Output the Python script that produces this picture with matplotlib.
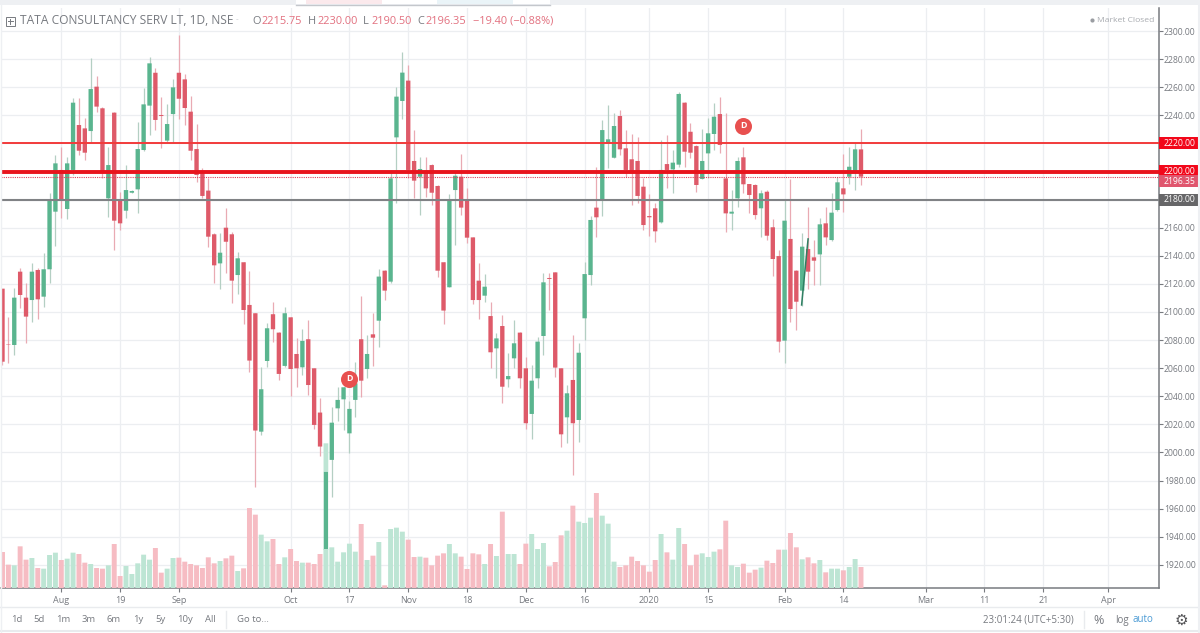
import matplotlib
matplotlib.use("Agg")
import matplotlib.pyplot as plt
from matplotlib.patches import Rectangle
import numpy as np

plt.rcParams['font.family'] = ['Open Sans', 'DejaVu Sans']

opens = [2116.6, 2077.0, 2076.5, 2128.7, 2110.2, 2108.5, 2129.9, 2110.9, 2130.4, 2171.4,
         2201.1, 2173.3, 2201.1, 2233.1, 2230.7, 2228.8, 2260.4, 2245.0, 2180.9, 2241.9,
         2180.4, 2172.1, 2184.9, 2187.3, 2215.3, 2246.9, 2270.3, 2240.2, 2222.0, 2240.9,
         2270.3, 2265.6, 2242.6, 2216.0, 2198.7, 2186.4, 2155.3, 2134.6, 2160.0, 2155.3,
         2126.3, 2135.4, 2105.0, 2099.1, 2014.8, 2065.1, 2098.4, 2085.3, 2061.6, 2096.2,
         2070.1, 2060.6, 2080.6, 2059.9, 2028.4, 1930.6, 1994.7, 2031.4, 2037.8, 2013.6,
         2037.4, 2080.6, 2059.4, 2084.1, 2093.8, 2129.4, 2121.6, 2224.3, 2250.2, 2264.7,
         2207.5, 2196.3, 2200.6, 2204.6, 2189.7, 2135.4, 2117.6, 2186.8, 2196.3, 2179.0,
         2153.1, 2122.3, 2111.6, 2097.1, 2074.1, 2090.0, 2052.1, 2067.0, 2085.3, 2059.9,
         2027.4, 2052.8, 2082.9, 2124.2, 2128.2, 2059.9, 2025.0, 2051.6, 2023.1, 2095.5,
         2126.3, 2174.3, 2180.2, 2220.0, 2209.8, 2239.5, 2216.5, 2208.7, 2207.5, 2189.2,
         2168.3, 2173.8, 2163.8, 2205.3, 2201.5, 2204.9, 2249.0, 2228.3, 2218.1, 2194.7,
         2212.9, 2226.7, 2240.9, 2195.1, 2170.0, 2180.9, 2210.1, 2191.1, 2190.4, 2173.8,
         2185.6, 2160.3, 2139.8, 2079.6, 2152.0, 2129.4, 2115.2, 2144.8, 2138.9, 2141.0,
         2163.1, 2151.2, 2172.6, 2188.0, 2196.3, 2199.2, 2215.75]
closes = [2064.6, 2076.7, 2110.2, 2112.1, 2096.7, 2128.7, 2109.0, 2130.4, 2180.4, 2205.8,
          2180.4, 2205.8, 2249.0, 2214.8, 2213.4, 2258.7, 2246.2, 2199.9, 2204.6, 2165.0,
          2163.1, 2186.8, 2186.1, 2216.0, 2247.8, 2277.0, 2236.7, 2239.5, 2233.8, 2259.9,
          2251.8, 2245.2, 2214.8, 2197.5, 2182.6, 2153.6, 2133.2, 2142.2, 2150.0, 2122.3,
          2138.2, 2101.4, 2065.4, 2015.6, 2045.0, 2088.4, 2087.7, 2055.9, 2099.1, 2059.4,
          2059.9, 2079.4, 2048.0, 2019.6, 2004.2, 1986.4, 2021.2, 2037.4, 2046.4, 2031.0,
          2049.2, 2051.1, 2070.1, 2081.7, 2125.2, 2115.2, 2195.1, 2253.3, 2270.4, 2201.1,
          2193.5, 2201.8, 2188.0, 2184.9, 2129.4, 2101.0, 2179.0, 2197.0, 2174.3, 2152.9,
          2108.5, 2108.5, 2118.0, 2071.3, 2081.2, 2046.8, 2054.4, 2077.7, 2052.8, 2020.8,
          2051.1, 2078.9, 2121.1, 2123.5, 2060.4, 2012.9, 2042.1, 2020.8, 2071.0, 2127.0,
          2165.5, 2167.4, 2229.5, 2222.9, 2232.4, 2215.8, 2201.1, 2198.7, 2182.6, 2161.9,
          2167.4, 2157.4, 2201.1, 2201.1, 2206.3, 2255.2, 2214.1, 2213.4, 2190.4, 2207.5,
          2227.2, 2239.0, 2218.9, 2170.2, 2171.4, 2207.5, 2190.9, 2183.3, 2169.0, 2184.5,
          2154.3, 2137.7, 2078.9, 2165.0, 2102.1, 2107.3, 2146.5, 2128.7, 2136.5, 2162.4,
          2153.1, 2170.7, 2192.3, 2183.7, 2203.4, 2215.8, 2196.35]
highs = [2116.6, 2096.7, 2116.8, 2131.1, 2120.4, 2134.6, 2131.1, 2142.2, 2184.9, 2211.7,
         2217.7, 2210.6, 2252.1, 2252.1, 2237.8, 2280.5, 2268.0, 2245.7, 2217.7, 2242.6,
         2185.6, 2204.6, 2186.8, 2235.5, 2259.2, 2281.7, 2273.4, 2253.3, 2248.0, 2265.6,
         2297.2, 2269.4, 2253.7, 2233.8, 2202.2, 2195.1, 2156.0, 2156.0, 2173.8, 2157.2,
         2142.9, 2135.8, 2129.4, 2099.5, 2061.1, 2091.9, 2107.4, 2086.0, 2103.8, 2096.7,
         2081.3, 2087.7, 2094.3, 2059.9, 2038.6, 1986.4, 2032.6, 2046.9, 2046.9, 2036.9,
         2064.6, 2111.4, 2083.6, 2099.5, 2130.4, 2129.9, 2201.1, 2260.4, 2285.3, 2275.8,
         2229.5, 2210.6, 2210.6, 2205.3, 2190.4, 2135.8, 2184.0, 2199.9, 2212.2, 2188.0,
         2153.6, 2134.6, 2127.0, 2107.3, 2084.8, 2097.9, 2071.0, 2094.3, 2086.0, 2068.2,
         2062.3, 2082.0, 2127.5, 2128.0, 2128.7, 2060.4, 2048.0, 2083.6, 2077.7, 2135.8,
         2168.3, 2203.4, 2236.6, 2247.3, 2241.9, 2243.8, 2229.5, 2226.7, 2224.8, 2195.1,
         2184.0, 2177.3, 2222.4, 2226.0, 2215.3, 2256.8, 2249.7, 2234.3, 2218.9, 2230.0,
         2237.8, 2249.0, 2253.3, 2241.9, 2186.8, 2210.6, 2217.7, 2191.1, 2191.1, 2186.8,
         2186.8, 2165.9, 2144.1, 2179.7, 2194.4, 2129.9, 2156.5, 2174.5, 2151.2, 2166.7,
         2175.0, 2184.9, 2196.3, 2212.2, 2217.2, 2220.5, 2230.0]
lows = [2062.3, 2063.5, 2069.4, 2102.6, 2077.7, 2093.1, 2094.8, 2103.8, 2120.4, 2147.0,
        2166.7, 2166.0, 2197.5, 2211.7, 2208.2, 2220.1, 2242.6, 2195.1, 2167.9, 2144.1,
        2158.3, 2166.7, 2184.5, 2170.2, 2214.8, 2226.0, 2229.5, 2216.5, 2221.2, 2220.1,
        2237.1, 2233.1, 2208.2, 2192.8, 2180.9, 2146.5, 2120.4, 2116.1, 2127.5, 2106.2,
        2112.8, 2091.5, 2057.5, 1975.2, 2012.5, 2061.1, 2078.9, 2051.6, 2061.1, 2040.2,
        2046.9, 2055.2, 2040.9, 2016.5, 1997.5, 1930.6, 1968.1, 2022.7, 2016.0, 1999.9,
        2025.0, 2039.7, 2052.8, 2061.6, 2075.3, 2108.5, 2120.4, 2177.3, 2237.1, 2195.1,
        2180.9, 2169.0, 2182.1, 2176.2, 2124.7, 2091.5, 2117.6, 2147.7, 2169.0, 2148.9,
        2105.7, 2094.8, 2107.3, 2059.9, 2052.8, 2035.0, 2046.8, 2059.9, 2045.7, 2016.5,
        2009.4, 2045.7, 2069.4, 2101.4, 2054.0, 2003.7, 2006.5, 1984.0, 2007.7, 2080.1,
        2119.2, 2153.6, 2168.3, 2202.2, 2209.4, 2211.7, 2196.3, 2176.1, 2177.3, 2158.4,
        2154.1, 2150.1, 2163.6, 2188.0, 2184.5, 2203.0, 2203.4, 2209.4, 2185.6, 2194.4,
        2195.1, 2215.3, 2213.4, 2157.2, 2158.4, 2174.5, 2184.5, 2170.2, 2165.9, 2153.6,
        2151.2, 2125.6, 2071.8, 2063.9, 2093.1, 2087.2, 2104.3, 2116.4, 2119.2, 2119.2,
        2147.7, 2150.8, 2172.1, 2171.4, 2190.9, 2186.8, 2190.5]
volumes = [108, 70, 68, 125, 85, 90, 60, 58, 99, 106, 84, 88, 106, 102, 76, 72, 60, 58, 68, 132,
           36, 66, 42, 74, 100, 85, 120, 46, 58, 90, 91, 79, 72, 68, 60, 92, 74, 81, 89, 97,
           51, 59, 240, 220, 160, 140, 147, 72, 92, 117, 81, 76, 76, 72, 102, 117, 122, 79, 107, 133,
           109, 192, 84, 97, 138, 8, 177, 181, 169, 145, 93, 94, 91, 68, 97, 104, 132, 104, 94, 57,
           104, 101, 72, 132, 96, 229, 102, 102, 72, 133, 162, 117, 135, 65, 78, 158, 172, 247, 199, 195,
           211, 285, 217, 193, 79, 63, 68, 94, 81, 68, 49, 84, 162, 107, 85, 180, 132, 68, 100, 104,
           93, 109, 116, 202, 68, 63, 73, 46, 55, 61, 82, 75, 115, 115, 165, 122, 86, 92, 74, 84,
           47, 58, 58, 53, 63, 87, 63]

price_ticks = list(range(1920, 2320, 20))
date_ticks = [10, 20, 30, 49, 59, 69, 79, 89, 99, 110, 120, 133, 143, 157, 167, 177, 188]
date_labels = ["Aug", "19", "Sep", "Oct", "17", "Nov", "18", "Dec", "16", "2020", "15", "Feb", "14",
               "Mar", "11", "21", "Apr"]
level_prices = [2220, 2200, 2180]
last_price = 2196.35
dividends_x = [59, 126]
dividends_y = [2052.3, 2232.4]
# the pale block sitting on top of the big green candle
ghost_x, ghost_top, ghost_bottom = 55, 2006.5, 1986.4
# hand drawn line over the Feb candles
trend_x = [135.9, 137.0]
trend_y = [2105.0, 2152.0]

RED = "#de5a69"
GREEN = "#5ab58f"
RED_WICK = "#e9aab3"
GREEN_WICK = "#b4cfc3"
RED_VOL = "#f6bcc3"
GREEN_VOL = "#bde5d4"
GRID = "#eceef1"
AXIS = "#787b80"
TEXT = "#777a80"

W, H = 1200, 633
fig = plt.figure(figsize=(W / 100, H / 100), dpi=100)


def px_axes(left, top, right, bottom):
    return [left / W, 1 - bottom / H, (right - left) / W, (bottom - top) / H]


def label(x, y, s, color=TEXT, size=7.0, ha="left", **kw):
    fig.text(x / W, 1 - y / H, s, color=color, fontsize=size, ha=ha, va="center", **kw)


ax = fig.add_axes(px_axes(1, 8, 1159, 588), zorder=1)
ax.set_xlim(-0.255, 196.68)
ax.set_ylim(1903.5, 2316.4)

x = np.arange(len(opens))
o, c, hi, lo = map(np.array, (opens, closes, highs, lows))
up = c >= o

ax.vlines(x[up], lo[up], hi[up], color=GREEN_WICK, lw=0.9, zorder=3)
ax.vlines(x[~up], lo[~up], hi[~up], color=RED_WICK, lw=0.9, zorder=3)
ax.bar(x[up], (c - o)[up], bottom=o[up], width=0.74, color=GREEN, lw=0, zorder=4, snap=False)
ax.bar(x[~up], (o - c)[~up], bottom=c[~up], width=0.74, color=RED, lw=0, zorder=4, snap=False)
ax.bar(ghost_x, ghost_top - ghost_bottom, bottom=ghost_bottom, width=0.8, color=GREEN_VOL, lw=0, zorder=4, snap=False)
ax.plot(trend_x, trend_y, color="#2f8063", lw=1.1, zorder=5)

ax.axhline(level_prices[0], color="#f23b3b", lw=1.4, zorder=6)
ax.axhline(level_prices[1], color="#e8141c", lw=2.8, zorder=6)
ax.axhline(last_price, color="#e0405a", lw=0.8, ls=(0, (1, 1)), zorder=6)
ax.axhline(level_prices[2], color="#808285", lw=1.5, zorder=6)

ax.scatter(dividends_x, dividends_y, s=150, color="#e8504f", lw=0, zorder=7)
for dx, dy in zip(dividends_x, dividends_y):
    ax.text(dx, dy, "D", color="white", fontsize=6.4, fontweight="bold", ha="center", va="center", zorder=8)

ax.set_yticks(price_ticks)
ax.set_yticklabels(["" if p in level_prices else "%.2f" % p for p in price_ticks])
ax.set_xticks(date_ticks)
ax.set_xticklabels(date_labels)
ax.yaxis.tick_right()
ax.tick_params(axis="y", length=3, width=0.8, color=AXIS, labelcolor=TEXT, labelsize=6.2, pad=0.5)
ax.tick_params(axis="x", length=3, width=0.8, color=AXIS, labelcolor=TEXT, labelsize=6.5, pad=3)
ax.grid(True, color=GRID, lw=0.9, zorder=0)
ax.set_axisbelow(True)
for side in ("left", "top"):
    ax.spines[side].set_visible(False)
for side in ("right", "bottom"):
    ax.spines[side].set_color(AXIS)
    ax.spines[side].set_linewidth(1.1)

# price badges on the scale
trans = ax.get_yaxis_transform()
badge_w = 39 / 1158
for price, txt, col in [(level_prices[0], "2220.00", "#f2071a"),
                        (level_prices[2], "2180.00", "#666668"),
                        (level_prices[1], "2200.00", "#f2071a"),
                        (last_price, "2196.35", "#e0566e")]:
    yc = price - 3.4 if price == last_price else price
    ax.add_patch(Rectangle((1.0, yc - 4.3), badge_w, 8.6, transform=trans, color=col, lw=0,
                           clip_on=False, zorder=9))
    ax.text(1 + 20 / 1158, yc, txt, transform=trans, color="white", fontsize=6.2, ha="center",
            va="center", clip_on=False, zorder=10)

# volume pane shares the bottom of the chart
ax_vol = fig.add_axes(px_axes(1, 8, 1159, 588), zorder=2)
ax_vol.set_xlim(ax.get_xlim())
ax_vol.set_ylim(0, 1740)
ax_vol.axis("off")
vols = np.array(volumes)
ax_vol.bar(x[up], vols[up], width=0.84, color=GREEN_VOL, lw=0, snap=False)
ax_vol.bar(x[~up], vols[~up], width=0.84, color=RED_VOL, lw=0, snap=False)

# chrome around the chart, in picture pixels
chrome = fig.add_axes([0, 0, 1, 1], zorder=3)
chrome.set_xlim(0, W)
chrome.set_ylim(H, 0)
chrome.axis("off")
chrome.patch.set_alpha(0)
chrome.add_patch(Rectangle((0, 0), W, 5, color="#eef0f3", lw=0))
chrome.add_patch(Rectangle((296, 0), 254, 4, color="#ffffff", lw=0))
chrome.add_patch(Rectangle((306, 0), 76, 4, color="#fbe9ec", lw=0))
chrome.add_patch(Rectangle((437, 0), 76, 4, color="#eaf4f8", lw=0))
chrome.plot([296, 550], [4.5, 4.5], color="#c4c7cc", lw=1)
chrome.plot([0, W], [607, 607], color="#e9ebee", lw=1)
chrome.plot([0, W], [631, 631], color="#e9ebee", lw=1.5)
chrome.plot([1198.5, 1198.5], [0, H], color="#eef0f3", lw=1.5)
chrome.plot([0.5, 0.5], [0, H], color="#eef0f3", lw=1)
chrome.plot([226, 226], [611, 628], color="#e9ebee", lw=1)
chrome.plot([1084, 1084], [611, 628], color="#e9ebee", lw=1)
chrome.add_patch(Rectangle((5.5, 16.5), 9, 9, fc="none", ec="#777a80", lw=0.7))
chrome.plot([7.5, 12.5], [21, 21], color="#777a80", lw=0.7)
chrome.plot([10, 10], [18.5, 23.5], color="#777a80", lw=0.7)
chrome.scatter([1092], [20], s=9, color="#9a9da2", lw=0)

label(20, 21, "TATA CONSULTANCY SERV LT, 1D, NSE", size=8.65)
label(236, 20, "-", color="#c4c7cc", size=6)
VAL = "#e2707f"
for lx, s, col in [(252, "O", TEXT), (261, "2215.75", VAL), (308, "H", TEXT), (317, "2230.00", VAL),
                   (363, "L", TEXT), (371, "2190.50", VAL), (417, "C", TEXT), (425, "2196.35", VAL),
                   (473, "\u221219.40 (\u22120.88%)", VAL)]:
    label(lx, 21, s, color=col, size=7.9)
label(1097, 20, "Market Closed", color="#a8abb0", size=6.1)

for cx, s in [(17, "1d"), (39, "5d"), (63, "1m"), (89, "3m"), (114, "6m"), (138, "1y"), (160, "5y"),
              (185, "10y"), (210, "All")]:
    label(cx, 620, s, size=6.8, ha="center")
label(237, 620, "Go to...", size=6.8)
label(983, 620, "23:01:24 (UTC+5:30)", size=7.0)
label(1099, 620, "%", size=9, ha="center")
label(1122, 620, "log", size=7.0, ha="center")
label(1143, 620, "auto", color="#4a9ad4", size=7.0, ha="center")
label(1181, 620, "\u2699", color="#555558", size=11, ha="center", family="DejaVu Sans")

fig.savefig("out.png", dpi=100)
